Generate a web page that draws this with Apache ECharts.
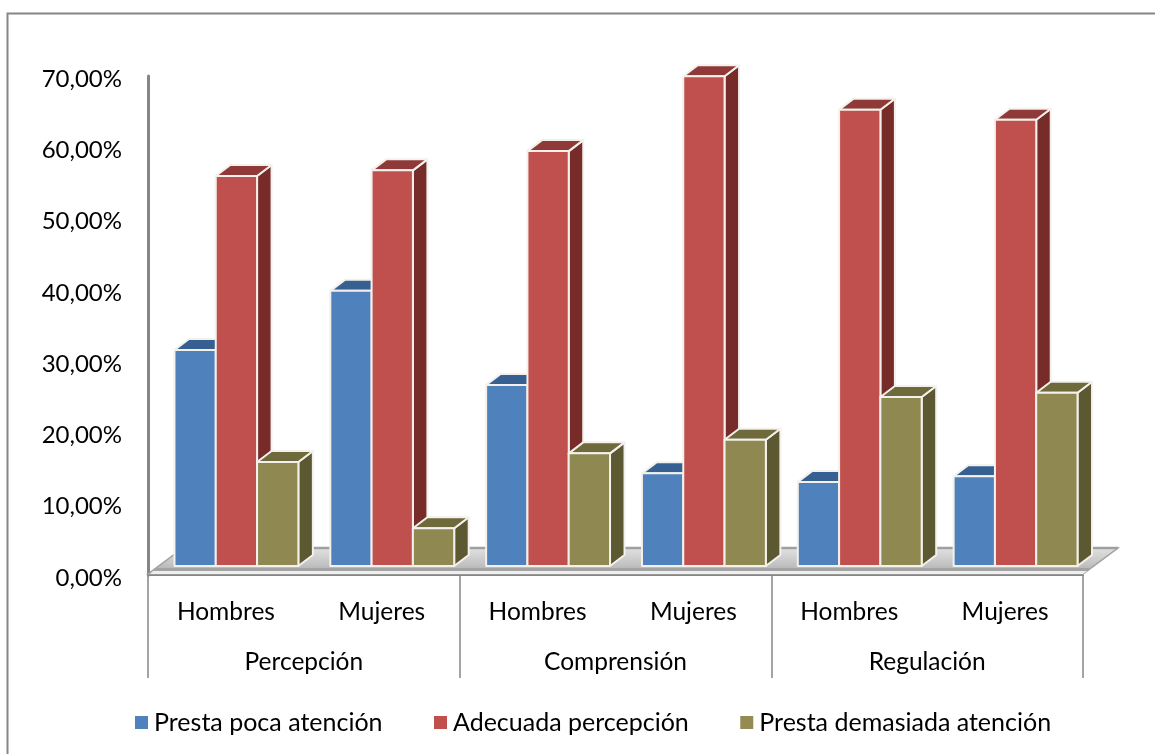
<!DOCTYPE html>
<html>
<head>
<meta charset="utf-8">
<style>html,body{margin:0;padding:0;background:#fff}#c{width:1155px;height:754px}</style>
<script src="https://cdn.jsdelivr.net/npm/echarts@6/dist/echarts.min.js"></script>
</head>
<body>
<div id="c"></div>
<script>
const subCategories = ['Hombres','Mujeres','Hombres','Mujeres','Hombres','Mujeres'];
const groups = ['Percepción','Comprensión','Regulación'];
const seriesNames = ['Presta poca atención','Adecuada percepción','Presta demasiada atención'];
const poca = [30.3,38.6,25.4,13.0,11.8,12.6];
const adecuada = [54.7,55.5,58.2,68.7,64.0,62.6];
const demasiada = [14.6,5.3,15.8,17.7,23.7,24.3];
const FONT = 'Lato';
const FS = 24.5;
const front = ['#4f81bd','#c0504d','#8f8850'];
const topFace = ['#376092','#8f3a38','#6f6a3c'];
const sideFace = ['#2f5480','#772c2a','#5c5831'];
const chart = echarts.init(document.getElementById('c'), null, {renderer:'canvas'});

function bar3d(seriesIdx){
  return function(params, api){
    const t = api.coord([api.value(0), api.value(1)]);
    const b = api.coord([api.value(0), 0]);
    const band = api.size([1,0])[0];
    const w = band*0.265;
    const l = t[0] + (seriesIdx-1.5)*w + 10.5;
    const r = l + w;
    const yT = t[1]-9, yB = b[1]-9;
    const dx = 14.5, dy = 11;
    const edge = {stroke:'#f4f1ec', lineWidth:2, lineJoin:'round'};
    return {type:'group', children:[
      {type:'polygon', shape:{points:[[r,yT],[r+dx,yT-dy],[r+dx,yB-dy],[r,yB]]},
        style:Object.assign({fill:sideFace[seriesIdx]},edge)},
      {type:'polygon', shape:{points:[[l,yT],[r,yT],[r+dx,yT-dy],[l+dx,yT-dy]]},
        style:Object.assign({fill:topFace[seriesIdx]},edge)},
      {type:'rect', shape:{x:l,y:yT,width:w,height:yB-yT},
        style:Object.assign({fill:front[seriesIdx]},edge)}
    ]};
  };
}
function floor(params, api){
  const c = params.coordSys;
  const x0=c.x, x1=c.x+c.width, y=c.y+c.height;
  const dx=35, dy=27;
  return {type:'group', silent:true, children:[
    {type:'polygon', shape:{points:[[x0,y-1],[x1,y-1],[x1+dx,y-dy],[x0+dx,y-dy]]},
      style:{fill:new echarts.graphic.LinearGradient(0,0,0,1,[
        {offset:0,color:'#e2e2e2'},{offset:0.6,color:'#c4c4c4'},{offset:1,color:'#a8a8a8'}]),
        stroke:'#a0a0a0',lineWidth:1.5}},
    {type:'line', shape:{x1:x0+dx,y1:y-dy,x2:x1+dx,y2:y-dy}, style:{stroke:'#a0a0a0',lineWidth:2.5}},
    {type:'polygon', shape:{points:[[x0+5,y-4],[x1+4,y-4],[x1+8,y-7],[x0+9,y-7]]},
      style:{fill:'#a3a3a3'}},
    {type:'polygon', shape:{points:[[x0+2,y-1],[x1,y-1],[x1+4,y-4],[x0+5,y-4]]},
      style:{fill:'#eeeeee'}}
  ]};
}
const mk = (i,vals)=>({
  type:'custom', name:seriesNames[i], renderItem:bar3d(i),
  itemStyle:{color:['#4f81bd','#c0504d','#948a54'][i]},
  encode:{x:0,y:1}, z:5+i,
  data:vals.map((v,k)=>[k,v])
});
chart.setOption({
  animation:false,
  backgroundColor:'#fff',
  textStyle:{fontFamily:FONT},
  grid:{left:148,right:72,top:76,bottom:179,containLabel:false},
  xAxis:[
    {type:'category',data:subCategories,position:'bottom',
      axisLine:{show:true,lineStyle:{color:'#868686',width:2}},
      axisTick:{show:false},splitLine:{show:false},
      axisLabel:{color:'#000',fontFamily:FONT,fontSize:FS,margin:25,interval:0}},
    {type:'category',data:groups,position:'bottom',
      axisLine:{show:false},
      axisTick:{show:true,length:103,lineStyle:{color:'#868686',width:1.5}},
      splitLine:{show:false},
      axisLabel:{color:'#000',fontFamily:FONT,fontSize:FS,margin:75,interval:0}}
  ],
  yAxis:{type:'value',min:0,max:70,interval:10,
    axisLine:{show:true,lineStyle:{color:'#868686',width:3}},
    axisTick:{show:false},splitLine:{show:false},
    axisLabel:{color:'#000',fontFamily:FONT,fontSize:24,margin:26,verticalAlign:'top',lineHeight:6,
      formatter:v=>v.toFixed(2).replace('.',',')+'%'}},
  legend:{show:true,left:130,top:705,icon:'rect',itemWidth:13,itemHeight:13,itemGap:51.5,
    data:seriesNames,selectedMode:false,
    textStyle:{color:'#000',fontFamily:FONT,fontSize:25,padding:[0,0,0,1]}},
  graphic:[{type:'polyline',silent:true,shape:{points:[[7.5,754],[7.5,13.5],[1155,13.5]]},
    style:{stroke:'#868686',lineWidth:2,fill:null}}],
  series:[
    {type:'custom',name:'floor',renderItem:floor,data:[[0,0]],encode:{x:0,y:1},z:1,silent:true},
    mk(0,poca),mk(1,adecuada),mk(2,demasiada)
  ]
});
</script>
</body>
</html>
